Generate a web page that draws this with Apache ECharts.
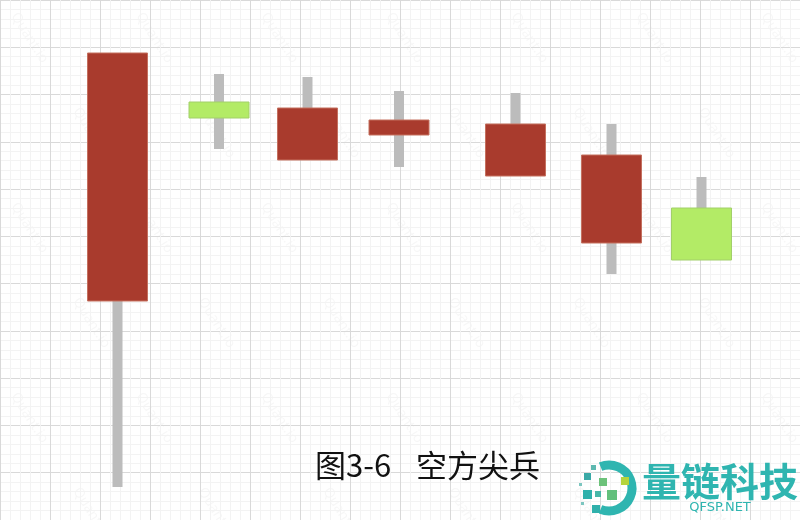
<!DOCTYPE html>
<html>
<head>
<meta charset="utf-8">
<style>
  html, body { margin: 0; padding: 0; background: #ffffff; }
  #chart { width: 800px; height: 520px; }
</style>
<script src="https://cdn.jsdelivr.net/npm/echarts@6/dist/echarts.min.js"></script>
</head>
<body>
<div id="chart"></div>
<script>
// ---- data (price units; x = candle position) ----
var candleX = [11.75, 21.9, 30.75, 39.9, 51.55, 61.15, 70.15];
var openVals  = [21.9, 41.8, 36.0, 38.5, 34.4, 27.7, 31.2];
var closeVals = [46.7, 40.2, 41.2, 40.0, 39.6, 36.5, 26.0];
var lowVals   = [3.3, 37.1, 36.0, 35.3, 34.4, 24.6, 26.0];
var highVals  = [46.7, 44.6, 44.3, 42.9, 42.7, 39.6, 34.3];
var titlePrefix = '图3-6';
var titleName = '空方尖兵';
var brandText = '量链科技';
var brandSub = 'QFSP.NET';

var candleData = candleX.map(function (x, i) {
  return [x, openVals[i], closeVals[i], lowVals[i], highVals[i]];
});

var UP_FILL = '#a93b2d', UP_STROKE = '#c4705f';
var DOWN_FILL = '#b3eb66', DOWN_STROKE = '#a2cf6a';
var WICK = '#bcbcbc';

function renderCandle(params, api) {
  var x = api.value(0), o = api.value(1), c = api.value(2), l = api.value(3), h = api.value(4);
  var pO = api.coord([x, o]), pC = api.coord([x, c]);
  var pL = api.coord([x, l]), pH = api.coord([x, h]);
  var bw = api.size([6, 0])[0];
  var ww = api.size([1, 0])[0];
  var up = c >= o;
  return {
    type: 'group',
    children: [
      { type: 'rect', shape: { x: pL[0] - ww / 2, y: pH[1], width: ww, height: pL[1] - pH[1] },
        style: { fill: WICK } },
      { type: 'rect', shape: { x: pO[0] - bw / 2, y: Math.min(pO[1], pC[1]), width: bw, height: Math.abs(pO[1] - pC[1]) },
        style: { fill: up ? UP_FILL : DOWN_FILL, stroke: up ? UP_STROKE : DOWN_STROKE, lineWidth: 1 } }
    ]
  };
}

// faint watermark decoration
var wm = [];
for (var r = -1; r < 6; r++) {
  for (var k = 0; k < 7; k++) {
    wm.push({
      type: 'text', x: 20 + k * 125 + (r % 2) * 62, y: 10 + r * 95,
      rotation: -1.0, silent: true, z: 0,
      style: { text: 'Quant.io', fill: 'rgba(0,0,0,0.035)', font: '14px "Noto Sans"' }
    });
  }
}

var logo = [
  { type: 'arc', shape: { cx: 609, cy: 488, r: 23, startAngle: -Math.PI * 0.62, endAngle: Math.PI * 0.62 },
    style: { stroke: '#2fb5b0', lineWidth: 9, fill: null }, z: 10 },
  { type: 'rect', shape: { x: 591, y: 465, width: 5, height: 5 }, style: { fill: '#5db8b0' }, z: 10 },
  { type: 'rect', shape: { x: 584, y: 473, width: 7, height: 7 }, style: { fill: '#3aa9a6' }, z: 10 },
  { type: 'rect', shape: { x: 599, y: 478, width: 8, height: 8 }, style: { fill: '#6cc27a' }, z: 10 },
  { type: 'rect', shape: { x: 621, y: 477, width: 8, height: 8 }, style: { fill: '#b5d43c' }, z: 10 },
  { type: 'rect', shape: { x: 583, y: 490, width: 9, height: 9 }, style: { fill: '#2fb0ab' }, z: 10 },
  { type: 'rect', shape: { x: 595, y: 491, width: 6, height: 6 }, style: { fill: '#48b7a8' }, z: 10 },
  { type: 'rect', shape: { x: 607, y: 490, width: 10, height: 10 }, style: { fill: '#62c07c' }, z: 10 },
  { type: 'rect', shape: { x: 592, y: 505, width: 8, height: 8 }, style: { fill: '#2fb0ab' }, z: 10 },
  { type: 'rect', shape: { x: 579, y: 483, width: 3, height: 3 }, style: { fill: '#7cc6c0' }, z: 10 },
  { type: 'rect', shape: { x: 581, y: 502, width: 3, height: 3 }, style: { fill: '#7cc6c0' }, z: 10 },
  { type: 'text', x: 642, y: 481, z: 10,
    style: { text: brandText, fill: '#2fb5b0', font: 'bold 39px "Noto Sans CJK SC"', textVerticalAlign: 'middle' } },
  { type: 'text', x: 720, y: 508, z: 10,
    style: { text: brandSub, fill: '#2fb5b0', font: '13px "DejaVu Sans"', textAlign: 'center', textVerticalAlign: 'middle' } },
  { type: 'text', x: 315, y: 465, z: 10,
    style: { text: titlePrefix, fill: '#111111', font: '31px "Noto Sans CJK SC"', textAlign: 'left', textVerticalAlign: 'middle' } },
  { type: 'text', x: 416, y: 465, z: 10,
    style: { text: titleName, fill: '#111111', font: '31px "Noto Sans CJK SC"', textAlign: 'left', textVerticalAlign: 'middle' } }
];

var chart = echarts.init(document.getElementById('chart'), null, { renderer: 'canvas' });
chart.setOption({
  backgroundColor: '#ffffff',
  animation: false,
  grid: [
    { left: -4.9, top: -30.9, width: 862.4, height: 592.9, show: false },
    { left: 0, top: 0, width: 800, height: 520, show: false }
  ],
  xAxis: [
    { type: 'value', gridIndex: 0, min: 0, max: 16, interval: 1,
      axisLine: { show: false }, axisTick: { show: false }, axisLabel: { show: false },
      splitLine: { show: true, lineStyle: { color: '#d9d9d9', width: 1 } },
      minorTick: { show: true, splitNumber: 5, length: 0 },
      minorSplitLine: { show: true, lineStyle: { color: '#f3f3f3', width: 1 } } },
    { type: 'value', gridIndex: 1, min: 0, max: 80, show: false, splitLine: { show: false } }
  ],
  yAxis: [
    { type: 'value', gridIndex: 0, min: 0, max: 11, interval: 1,
      axisLine: { show: false }, axisTick: { show: false }, axisLabel: { show: false },
      splitLine: { show: true, lineStyle: { color: '#d9d9d9', width: 1 } },
      minorTick: { show: true, splitNumber: 5, length: 0 },
      minorSplitLine: { show: true, lineStyle: { color: '#f3f3f3', width: 1 } } },
    { type: 'value', gridIndex: 1, min: 0, max: 52, show: false, splitLine: { show: false } }
  ],
  series: [
    { type: 'custom', xAxisIndex: 1, yAxisIndex: 1, renderItem: renderCandle,
      encode: { x: 0, y: [1, 2, 3, 4] }, data: candleData, z: 5 }
  ],
  graphic: { elements: wm.concat(logo) }
});
</script>
</body>
</html>
